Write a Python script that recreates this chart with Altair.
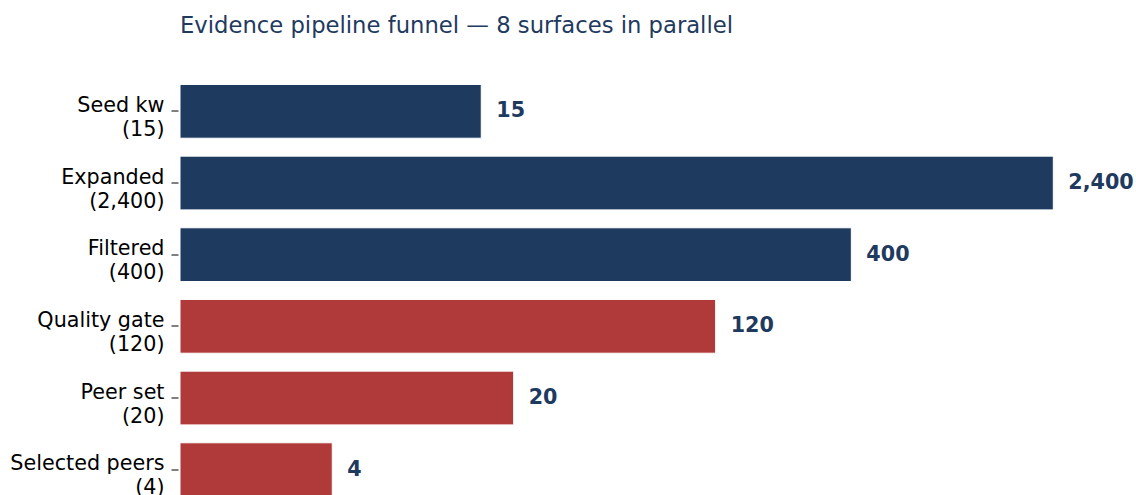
import altair as alt
import pandas as pd

stages = ["Seed kw", "Expanded", "Filtered", "Quality gate", "Peer set", "Selected peers"]
counts = [15, 2400, 400, 120, 20, 4]
groups = ["discovery", "discovery", "discovery", "selection", "selection", "selection"]
group_colors = ["#1f3a5f", "#b03a3a"]

labels = [f"{s}\n({c:,})" for s, c in zip(stages, counts)]
df = pd.DataFrame({"label": labels, "count": counts, "group": groups})

NAVY = "#1f3a5f"
FONT = "DejaVu Sans"
X_MIN = 1.036

y_enc = alt.Y(
    "label:N",
    sort=labels,
    title=None,
    scale=alt.Scale(paddingInner=0.25, paddingOuter=0.125, range=[0, 430]),
    axis=alt.Axis(
        labelExpr="split(datum.label, '\\n')",
        labelFont=FONT,
        labelFontSize=20.7,
        labelColor="black",
        labelLineHeight=24,
        labelPadding=7,
        tickSize=7,
        tickColor="black",
        tickWidth=1,
        domain=False,
        offset=2,
        labelOffset=-5.5,
    ),
)

x_scale = alt.Scale(type="log", domain=[X_MIN, 3600], nice=False, zero=False)

bars = alt.Chart(df).mark_bar(stroke="white", strokeWidth=1).encode(
    x=alt.X("count:Q", scale=x_scale, axis=None),
    x2=alt.datum(X_MIN),
    y=y_enc,
    color=alt.Color("group:N", scale=alt.Scale(domain=["discovery", "selection"], range=group_colors), legend=None),
)

text = alt.Chart(df).mark_text(
    align="left", baseline="middle", dx=15, font=FONT, fontSize=20.7, fontWeight="bold", color=NAVY
).encode(
    x=alt.X("count:Q", scale=x_scale, axis=None),
    y=alt.Y("label:N", sort=labels),
    text=alt.Text("count:Q", format=","),
)

chart = (
    alt.layer(bars, text)
    .properties(
        width=919,
        height=419.5,
        title=alt.TitleParams(
            "Evidence pipeline funnel — 8 surfaces in parallel",
            anchor="start",
            frame="group",
            font=FONT,
            fontSize=22.7,
            fontWeight="normal",
            color=NAVY,
            offset=38,
        ),
        autosize=alt.AutoSizeParams(type="none"),
        padding={"left": 180, "top": 75.5, "right": 37, "bottom": 0},
    )
    .configure_view(stroke=None)
)

chart.save("out.html", embed_options={"renderer": "svg", "actions": False})
